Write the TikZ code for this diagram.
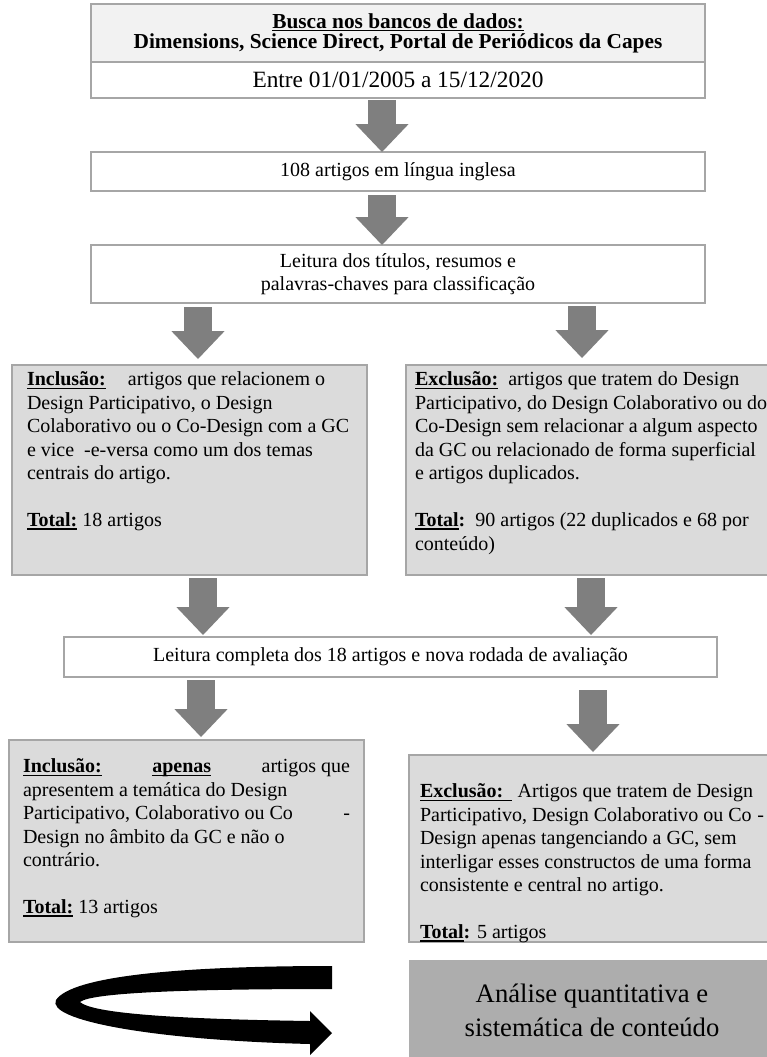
\documentclass[tikz,border=0pt]{standalone}
\usepackage{fontspec}
\setmainfont{Liberation Serif}
\usepackage{tikz}
\usetikzlibrary{arrows.meta}
\newlength{\px}
\setlength{\px}{0.75pt}
\definecolor{cEdge}{HTML}{A6A6A6}
\definecolor{cHead}{HTML}{F2F2F2}
\definecolor{cCrit}{HTML}{DBDBDB}
\definecolor{cEnd} {HTML}{ADADAD}
\definecolor{cFlow}{HTML}{7F7F7F}
\newsavebox{\ulbox}
\newcommand{\ulin}[1]{\leavevmode\sbox{\ulbox}{#1}%
  \rlap{\rule[-2.4pt]{\wd\ulbox}{1.1pt}}\usebox{\ulbox}}
\newcommand{\ulb}[1]{\ulin{\textbf{#1}}}
\newcommand{\boxbody}[4]{\parbox[t][#1\px][t]{#2\px}{\vspace*{#3\px}\raggedright #4}}
\tikzset{
  boxbase/.style={draw=cEdge,line width=1.5pt,anchor=north west,inner sep=0pt},
  stage/.style  ={boxbase,fill=white,align=center,
                  font=\fontsize{15}{17.6}\selectfont},
  crit/.style   ={boxbase,fill=cCrit,inner ysep=0pt,
                  font=\fontsize{15}{17.6}\selectfont},
  flow/.style   ={draw=cFlow,line width=21pt,
                  -{Triangle[length=21pt 0 0,width=40pt 0 0,line width=0pt 0 0]}},
}

\begin{document}
\begin{tikzpicture}[x=\px,y=-\px,every node/.style={outer sep=0pt}]
\useasboundingbox (0,0) rectangle (767,1057);
\clip (0,0) rectangle (767,1057);

% ---- search ----------------------------------------------------------------
\node[stage,fill=cHead,minimum width=614\px,minimum height=58\px,
      font=\fontsize{16}{15}\selectfont\bfseries] (search) at (91,4)
  {\ulin{Busca nos bancos de dados:}\\
   Dimensions, Science Direct, Portal de Periódicos da Capes};
\node[stage,minimum width=614\px,minimum height=36\px,
      font=\fontsize{17.5}{20}\selectfont] (period) at (91,62)
  {Entre 01/01/2005 a 15/12/2020};
\node[stage,minimum width=614\px,minimum height=39\px] (found) at (91,152)
  {108 artigos em língua inglesa};
\node[stage,minimum width=614\px,minimum height=58\px] (screen) at (91,245)
  {Leitura dos títulos, resumos e\\ palavras-chaves para classificação};

% ---- first selection -------------------------------------------------------
\node[crit,inner xsep=15\px] (incA) at (12,365)
  {\boxbody{210}{325}{7}{%
   \ulb{Inclusão:}\hspace{1.1em}artigos que relacionem o\\
   Design Participativo, o Design\\
   Colaborativo ou o Co-Design com a GC\\
   e vice \ -e-versa como um dos temas\\
   centrais do artigo.\\[\baselineskip]
   \ulb{Total:} 18 artigos}};
\node[crit,inner xsep=9\px] (excA) at (406,365)
  {\boxbody{210}{352}{7}{%
   \ulb{Exclusão:}\hspace{0.5em}artigos que tratem do Design\\
   Participativo, do Design Colaborativo ou do\\
   Co-Design sem relacionar a algum aspecto\\
   da GC ou relacionado de forma superficial\\
   e artigos duplicados.\\[\baselineskip]
   \ulb{Total}\textbf{:}\hspace{0.5em}90 artigos (22 duplicados e 68 por\\
   conteúdo)}};

% ---- second selection ------------------------------------------------------
\node[stage,minimum width=653\px,minimum height=40\px] (full) at (64,637)
  {Leitura completa dos 18 artigos e nova rodada de avaliação};
\node[crit,inner xsep=14\px] (incB) at (9,740)
  {\boxbody{202}{327}{19}{%
   \ulb{Inclusão:}\hfill\ulb{apenas}\hfill artigos que\\
   apresentem a temática do Design\\
   Participativo, Colaborativo ou Co\hfill-\\
   Design no âmbito da GC e não o\\
   contrário.\\[\baselineskip]
   \ulb{Total:} 13 artigos}};
\node[crit,inner xsep=11\px] (excB) at (409,755)
  {\boxbody{187}{344}{29}{%
   \ulb{Exclusão:\ \,}\hspace{0.3em}Artigos que tratem de Design\\
   Participativo, Design Colaborativo ou Co\hfill-\\
   Design apenas tangenciando a GC, sem\\
   interligar esses constructos de uma forma\\
   consistente e central no artigo.\\[\baselineskip]
   \ulb{Total}\textbf{:} 5 artigos}};

% ---- result ----------------------------------------------------------------
\node[stage,fill=cEnd,draw=none,minimum width=366\px,minimum height=100\px,
      font=\fontsize{20}{25.5}\selectfont] (final) at (409,960)
  {Análise quantitativa e\\ sistemática de conteúdo};

% curled arrow pointing at the result
\fill[black] (332,966) .. controls (180,966) and (72,976) .. (56,1000)
  .. controls (46,1020) and (150,1040) .. (310,1044)
  -- (310,1055) -- (332,1033) -- (310,1011) -- (310,1021)
  .. controls (170,1019) and (92,1013) .. (80,1002)
  .. controls (92,992) and (200,989) .. (332,989) -- cycle;

% ---- block arrows ----------------------------------------------------------
\coordinate (cmid) at (382,0);
\coordinate (cl1)  at (198,0);
\coordinate (cr1)  at (582,0);
\coordinate (cl2)  at (203,0);
\coordinate (cr2)  at (591,0);
\coordinate (cl3)  at (201,0);
\coordinate (cr3)  at (593,0);
\foreach \src/\dst/\col/\ga/\gb in {period/found/cmid/2/0, found/screen/cmid/4/0,
    screen/incA/cl1/4/6, screen/excA/cr1/3/7, incA/full/cl2/3/2, excA/full/cr2/3/2,
    full/incB/cl3/3/3, full/excB/cr3/13/3}
  {\draw[flow,shorten <=\ga\px,shorten >=\gb\px] (\src.south -| \col) -- (\dst.north -| \col);}
\end{tikzpicture}
\end{document}
